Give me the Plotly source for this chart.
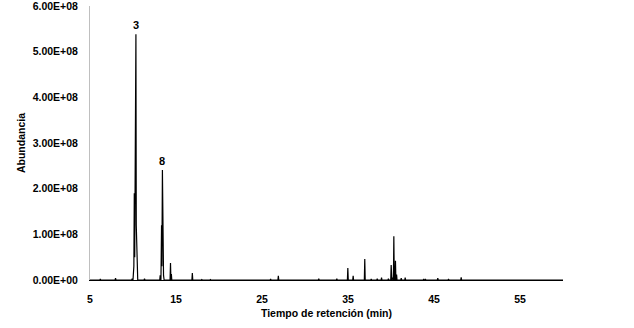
import plotly.graph_objects as go

# Main peak clusters (time in min, abundance)
pico3_t = [10.00, 10.10, 10.15, 10.20, 10.25, 10.27, 10.29, 10.31, 10.34, 10.38, 10.45, 10.55]
pico3_h = [0, 0.3e8, 1.9e8, 0.5e8, 4.4e8, 3.0e8, 4.42e8, 4.45e8, 5.38e8, 1.2e8, 0.4e8, 0]

pico8_t = [13.25, 13.32, 13.36, 13.42, 13.48, 13.55, 13.62]
pico8_h = [0, 1.2e8, 0.3e8, 2.41e8, 0.35e8, 0.1e8, 0]

# Minor peaks (apex time, apex abundance)
menor_t = [6.2, 7.97, 9.9, 11.34, 13.16, 14.36, 14.46, 15.6, 16.9, 18.0, 19.0,
           26.0, 26.9, 31.6, 33.7, 34.98, 35.6, 36.95, 37.7, 38.4, 38.9, 39.7,
           40.02, 40.15, 40.33, 40.52, 40.65, 41.19, 41.65, 43.8, 44.0, 45.44,
           46.69, 48.16]
menor_h = [0.02e8, 0.04e8, 0.03e8, 0.03e8, 0.10e8, 0.37e8, 0.13e8, 0.01e8, 0.15e8, 0.01e8, 0.01e8,
           0.02e8, 0.09e8, 0.03e8, 0.03e8, 0.26e8, 0.09e8, 0.46e8, 0.02e8, 0.03e8, 0.05e8, 0.03e8,
           0.33e8, 0.05e8, 0.96e8, 0.42e8, 0.12e8, 0.04e8, 0.05e8, 0.02e8, 0.02e8, 0.04e8,
           0.02e8, 0.06e8]

y_ticks = [0, 1e8, 2e8, 3e8, 4e8, 5e8, 6e8]
y_labels = ["0.00E+00", "1.00E+08", "2.00E+08", "3.00E+08", "4.00E+08", "5.00E+08", "6.00E+08"]
x_ticks = [5, 15, 25, 35, 45, 55]

etiquetas = ["3", "8"]
etiq_t = [10.34, 13.42]
etiq_h = [5.38e8, 2.41e8]

# assemble trace
pts = [(5.0, 0.0), (60.0, 0.0)]
pts += list(zip(pico3_t, pico3_h))
pts += list(zip(pico8_t, pico8_h))
d = 0.05
for t, h in zip(menor_t, menor_h):
    pts += [(t - d, 0.0), (t, h), (t + d, 0.0)]
pts.sort(key=lambda p: p[0])
xs = [p[0] for p in pts]
ys = [p[1] for p in pts]

font = dict(family="Liberation Sans Narrow, Liberation Sans, Arial, sans-serif", color="#000000")

fig = go.Figure()
fig.add_trace(go.Scatter(x=xs, y=ys, mode="lines",
                         line=dict(color="black", width=1.2), hoverinfo="skip"))

for lab, t, h in zip(etiquetas, etiq_t, etiq_h):
    fig.add_annotation(x=t, y=h, text=lab, showarrow=False, yanchor="bottom", yshift=1,
                       font=dict(size=11, weight="bold", **font))

fig.update_layout(
    width=634, height=328,
    margin=dict(l=90, r=71, t=6, b=48),
    paper_bgcolor="white", plot_bgcolor="white",
    showlegend=False,
    xaxis=dict(range=[5, 60], tickvals=x_ticks, showgrid=False, zeroline=False,
               showline=True, linecolor="black", linewidth=1, automargin=False,
               ticks="outside", ticklen=9, tickcolor="rgba(0,0,0,0)",
               ticklabeloverflow="allow",
               tickfont=dict(size=10.5, weight="bold", **font),
               title=dict(text="Tiempo de retención (min)", standoff=6,
                          font=dict(size=10.5, weight="bold", **font))),
    yaxis=dict(range=[0, 6e8], tickvals=y_ticks, ticktext=y_labels, showgrid=False,
               zeroline=False, showline=True, linecolor="#bfbfbf", linewidth=1,
               automargin=False, ticklabeloverflow="allow",
               ticks="outside", ticklen=9, tickcolor="rgba(0,0,0,0)",
               tickfont=dict(size=10.5, weight="bold", **font),
               title=dict(text="Abundancia", standoff=4,
                          font=dict(size=10.5, weight="bold", **font))),
)

fig.write_html("out.html", config={"displayModeBar": False},
               post_script="document.body.style.margin='0';")
